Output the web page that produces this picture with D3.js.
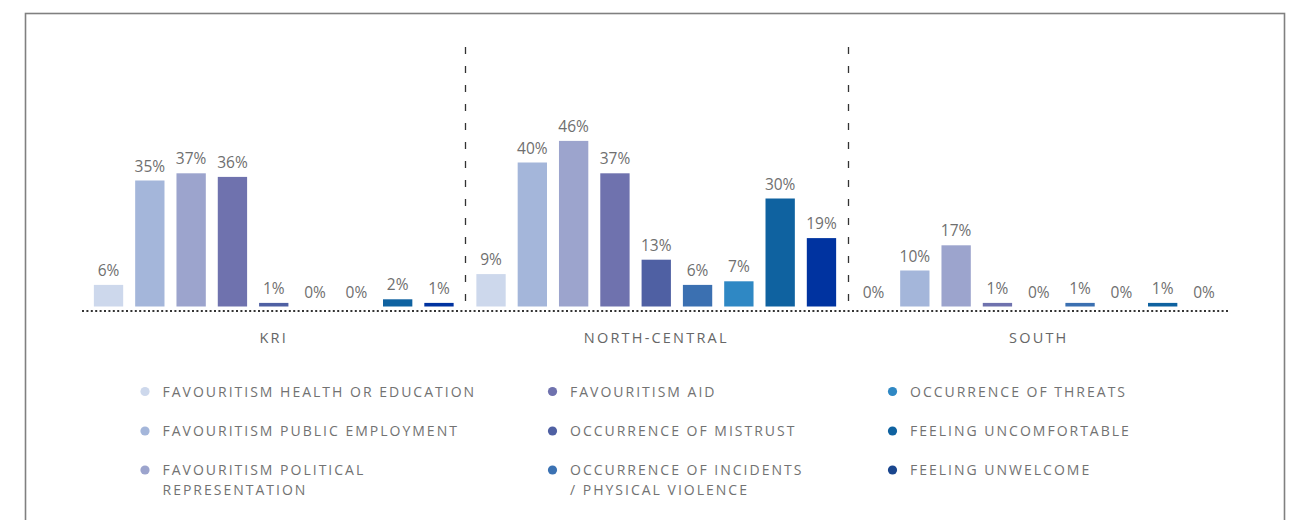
<!DOCTYPE html>
<html>
<head>
<meta charset="utf-8">
<script src="https://cdn.jsdelivr.net/npm/d3@7"></script>
<style>
  html, body { margin: 0; padding: 0; background: #fff; }
  svg { display: block; }
  text { font-family: "Open Sans", "Lato", sans-serif; }
</style>
</head>
<body>
<svg id="chart" width="1300" height="520"></svg>
<script>
const groups = ["KRI", "NORTH-CENTRAL", "SOUTH"];
const seriesNames = [
  "FAVOURITISM HEALTH OR EDUCATION",
  "FAVOURITISM PUBLIC EMPLOYMENT",
  "FAVOURITISM POLITICAL REPRESENTATION",
  "FAVOURITISM AID",
  "OCCURRENCE OF MISTRUST",
  "OCCURRENCE OF INCIDENTS / PHYSICAL VIOLENCE",
  "OCCURRENCE OF THREATS",
  "FEELING UNCOMFORTABLE",
  "FEELING UNWELCOME"
];
const legendLines = [
  ["FAVOURITISM HEALTH OR EDUCATION"],
  ["FAVOURITISM PUBLIC EMPLOYMENT"],
  ["FAVOURITISM POLITICAL", "REPRESENTATION"],
  ["FAVOURITISM AID"],
  ["OCCURRENCE OF MISTRUST"],
  ["OCCURRENCE OF INCIDENTS", "/ PHYSICAL VIOLENCE"],
  ["OCCURRENCE OF THREATS"],
  ["FEELING UNCOMFORTABLE"],
  ["FEELING UNWELCOME"]
];
// values per series, in group order [KRI, NORTH-CENTRAL, SOUTH]
const healthEducation = [6, 9, 0];
const publicEmployment = [35, 40, 10];
const politicalRepresentation = [37, 46, 17];
const aid = [36, 37, 1];
const mistrust = [1, 13, 0];
const incidents = [0, 6, 1];
const threats = [0, 7, 0];
const uncomfortable = [2, 30, 1];
const unwelcome = [1, 19, 0];
const seriesValues = [healthEducation, publicEmployment, politicalRepresentation, aid,
  mistrust, incidents, threats, uncomfortable, unwelcome];
const colors = ["#cdd8ec", "#a4b6da", "#9ca4cd", "#6f72ae", "#4f60a3",
  "#3b70b1", "#2f88c4", "#0f62a0", "#0033a0"];
const legendColors = ["#cdd8ec", "#a4b6da", "#9ca4cd", "#6f72ae", "#4f60a3",
  "#3b72b3", "#2f88c4", "#0f62a0", "#1a468e"];

const svg = d3.select("#chart");

// frame
svg.append("rect")
  .attr("x", 25.5).attr("y", 13.5)
  .attr("width", 1259).attr("height", 560)
  .attr("fill", "none").attr("stroke", "#808080").attr("stroke-width", 1.6);

const x0 = d3.scaleBand().domain(groups).range([82.5, 1230]).paddingInner(0).paddingOuter(0);
const x1 = d3.scaleBand().domain(d3.range(seriesNames.length)).range([0, x0.bandwidth()])
  .paddingInner(0.29).paddingOuter(0.275);
const y = d3.scaleLinear().domain([0, 50]).range([306.5, 126.5]);

// separators
groups.slice(1).forEach(g => {
  const xs = Math.round(x0(g)) + 0.5;
  svg.append("line")
    .attr("x1", xs).attr("x2", xs).attr("y1", 47).attr("y2", 305)
    .attr("stroke", "#333").attr("stroke-width", 1.3)
    .attr("stroke-dasharray", "7,12");
});

// baseline
svg.append("line")
  .attr("x1", 82).attr("x2", 1230).attr("y1", 311).attr("y2", 311)
  .attr("stroke", "#333").attr("stroke-width", 2)
  .attr("stroke-dasharray", "2,2.4");

const data = [];
groups.forEach((g, gi) => {
  seriesNames.forEach((s, si) => {
    data.push({ g, si, v: seriesValues[si][gi] });
  });
});

svg.append("g").selectAll("rect").data(data).join("rect")
  .attr("x", d => x0(d.g) + x1(d.si))
  .attr("width", x1.bandwidth())
  .attr("y", d => y(d.v))
  .attr("height", d => y(0) - y(d.v))
  .attr("fill", d => colors[d.si]);

svg.append("g").selectAll("text").data(data).join("text")
  .attr("x", d => x0(d.g) + x1(d.si) + x1.bandwidth() / 2)
  .attr("y", d => y(d.v) - 9)
  .attr("text-anchor", "middle")
  .attr("font-size", 15.5)
  .attr("fill", "#6f6f6f")
  .text(d => d.v + "%");

// group labels
svg.append("g").selectAll("text").data(groups).join("text")
  .attr("x", d => x0(d) + x0.bandwidth() / 2)
  .attr("y", 343)
  .attr("text-anchor", "middle")
  .attr("font-size", 14.5)
  .attr("letter-spacing", 2.2)
  .attr("fill", "#666")
  .text(d => d);

// legend
const colX = [145, 552.5, 892.5];
const rowY = [391.5, 431, 470];
const leg = svg.append("g").selectAll("g").data(legendLines).join("g")
  .attr("transform", (d, i) => `translate(${colX[Math.floor(i / 3)]},${rowY[i % 3]})`);
leg.append("circle").attr("r", 4.6).attr("cx", 0).attr("cy", 0)
  .attr("fill", (d, i) => legendColors[i]);
leg.each(function(lines) {
  const t = d3.select(this).append("text")
    .attr("x", 17.5).attr("y", 5)
    .attr("font-size", 14)
    .attr("letter-spacing", 2)
    .attr("fill", "#727272");
  lines.forEach((ln, k) => {
    t.append("tspan").attr("x", 17.5).attr("dy", k === 0 ? 0 : 20).text(ln);
  });
});
</script>
</body>
</html>
